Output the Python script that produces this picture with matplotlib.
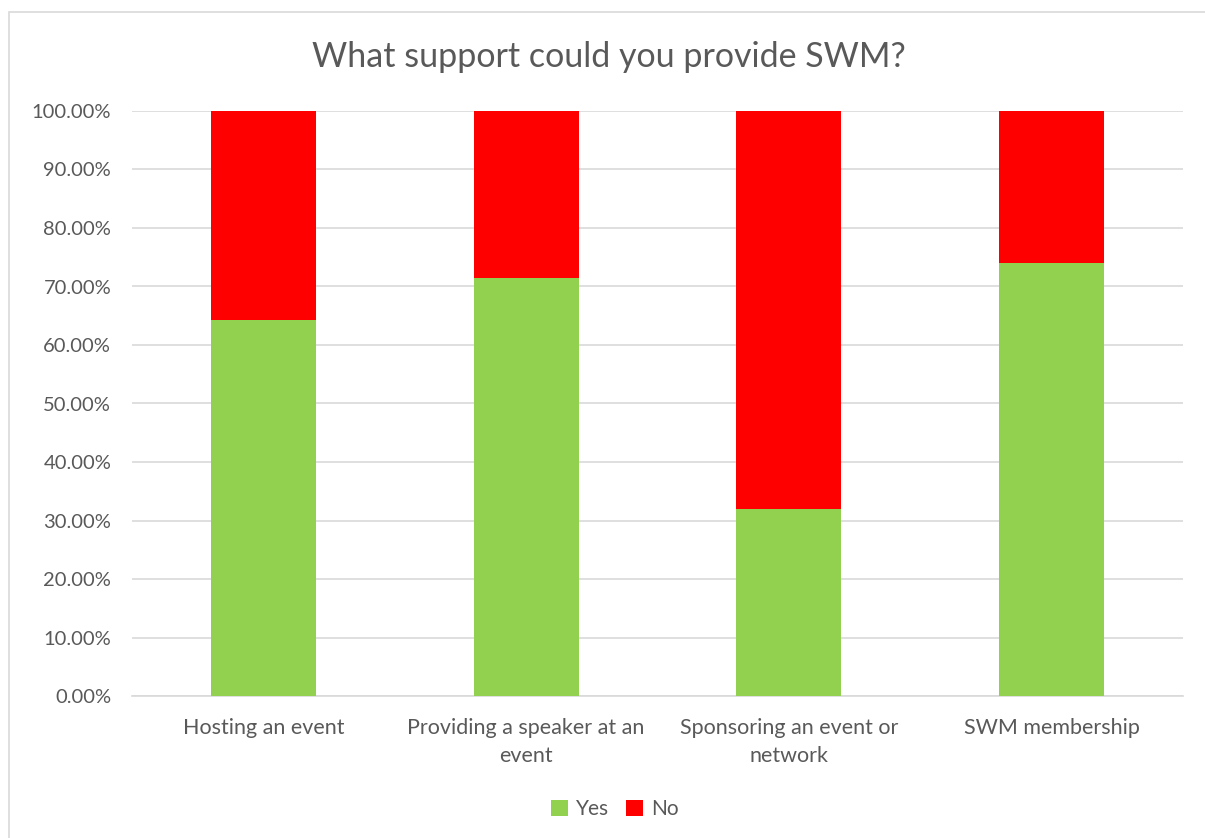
import matplotlib.pyplot as plt
from matplotlib.patches import Rectangle
from matplotlib.ticker import FuncFormatter
import numpy as np

categories = ['Hosting an event', 'Providing a speaker at an\nevent',
              'Sponsoring an event or\nnetwork', 'SWM membership']
yes_pct = [64.29, 71.43, 32.0, 74.0]
no_pct = [35.71, 28.57, 68.0, 26.0]

plt.rcParams['font.family'] = ['Lato', 'DejaVu Sans']
text_color = '#595959'
grid_color = '#D9D9D9'

fig = plt.figure(figsize=(12.05, 8.38), dpi=100)
ax = fig.add_axes([132 / 1205, 1 - 696 / 838, 1051 / 1205, 585 / 838])

# outer chart border
fig.patches.append(Rectangle((9 / 1205, -0.01), 1.1, 1 - 12 / 838 + 0.01,
                             transform=fig.transFigure, fill=False,
                             edgecolor=grid_color, linewidth=1.2))

x = np.arange(len(categories))
ax.bar(x, yes_pct, width=0.4, color='#92D050', label='Yes', zorder=3)
ax.bar(x, no_pct, width=0.4, bottom=yes_pct, color='#FF0000', label='No', zorder=3)

ax.set_xlim(-0.5, len(categories) - 0.5)
ax.set_ylim(0, 100)
ax.set_yticks(np.arange(0, 101, 10))
ax.yaxis.set_major_formatter(FuncFormatter(lambda v, p: f'{v:.2f}%'))
ax.set_xticks(x)
ax.set_xticklabels(categories, fontsize=15.5, linespacing=1.5, va='top')
ax.grid(axis='y', color=grid_color, linewidth=1.2, zorder=0)
for s in ['top', 'right', 'left']:
    ax.spines[s].set_visible(False)
ax.spines['bottom'].set_color(grid_color)
ax.spines['bottom'].set_linewidth(1.2)
ax.tick_params(axis='both', length=0, colors=text_color)
ax.tick_params(axis='y', pad=15, labelsize=14.5)
ax.tick_params(axis='x', pad=16)

fig.text(609 / 1205, 1 - 57 / 838, 'What support could you provide SWM?', ha='center',
         va='center', fontsize=24.5, color=text_color)

leg = fig.legend(loc='center', bbox_to_anchor=(615 / 1205, 1 - 809 / 838), ncol=2,
                 frameon=False, fontsize=15, handlelength=0.8, handleheight=0.8,
                 columnspacing=0.8, handletextpad=0.4)
for t in leg.get_texts():
    t.set_color(text_color)

fig.savefig('out.png', dpi=100)
